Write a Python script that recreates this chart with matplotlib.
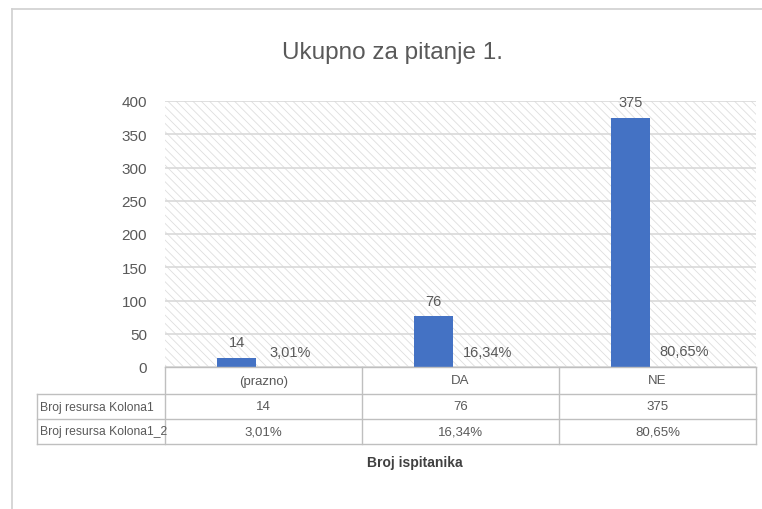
import matplotlib
matplotlib.use("Agg")
import matplotlib.pyplot as plt
import numpy as np
from matplotlib.lines import Line2D
from matplotlib.patches import Rectangle

plt.rcParams["hatch.linewidth"] = 0.6
plt.rcParams["font.family"] = ["Liberation Sans", "DejaVu Sans"]

TITLE = "Ukupno za pitanje 1."
CATEGORIES = ["(prazno)", "DA", "NE"]
COUNTS = [14, 76, 375]
SHARES = [0.0301, 0.1634, 0.8065]
COUNT_LABELS = ["14", "76", "375"]
SHARE_LABELS = ["3,01%", "16,34%", "80,65%"]
ROW_NAMES = ["Broj resursa Kolona1", "Broj resursa Kolona1_2"]
YTICKS = [0, 50, 100, 150, 200, 250, 300, 350, 400]
XLABEL = "Broj ispitanika"

W, H = 762, 510
TXT = "#595959"
GRID = "#d9d9d9"
LINE = "#bfbfbf"
BLUE = "#4472C4"


def fx(x):
    return x / W


def fy(y):
    return 1 - y / H


fig = plt.figure(figsize=(W / 100, H / 100), dpi=100)

# chart border (top and left visible)
fig.add_artist(Line2D([fx(12), fx(762)], [fy(10), fy(10)], color="#d0d0d0", lw=1.2))
fig.add_artist(Line2D([fx(12), fx(12)], [fy(10), fy(510)], color="#d0d0d0", lw=1.2))

left, right, top, bottom = 165, 756, 102, 368
ax = fig.add_axes([fx(left), fy(bottom), fx(right - left), fy(top) - fy(bottom)])

# hatched plot background
ax.add_patch(Rectangle((0, 0), 1, 1, transform=ax.transAxes, facecolor="white",
                       edgecolor="#dedede", lw=0, hatch="\\\\\\\\", zorder=0))

x = np.arange(len(CATEGORIES))
off, w = 0.137, 0.195
ax.bar(x - off, COUNTS, width=w, color=BLUE, zorder=3)
for xi, v, s in zip(x, COUNTS, COUNT_LABELS):
    ax.annotate(s, (xi - off, v), xytext=(0, 6), textcoords="offset points",
                ha="center", va="bottom", fontsize=10.5, color=TXT)
for xi, v, s in zip(x, SHARES, SHARE_LABELS):
    ax.annotate(s, (xi + off, v), xytext=(0, 6), textcoords="offset points",
                ha="center", va="bottom", fontsize=10.5, color=TXT)

ax.set_xlim(-0.5, len(CATEGORIES) - 0.5)
ax.set_ylim(0, 400)
ax.set_yticks(YTICKS)
ax.set_yticklabels([str(t) for t in YTICKS], fontsize=11, color=TXT)
ax.set_xticks([])
ax.tick_params(axis="y", length=0, pad=13)
for sp in ax.spines.values():
    sp.set_visible(False)
ax.grid(axis="y", color=GRID, lw=1.2, zorder=1)
ax.set_axisbelow(True)

fig.text(fx(393), fy(53), TITLE, ha="center", va="center", fontsize=17.5, color=TXT)

# data table below the axis
rows_y = [368, 395, 420, 445]
col_x = [left + (right - left) * i / len(CATEGORIES) for i in range(len(CATEGORIES) + 1)]
fig.add_artist(Line2D([fx(left), fx(right)], [fy(rows_y[0]), fy(rows_y[0])], color=LINE, lw=1))
for yy in rows_y[1:]:
    fig.add_artist(Line2D([fx(37), fx(right)], [fy(yy), fy(yy)], color=LINE, lw=1))
for xx in col_x:
    fig.add_artist(Line2D([fx(xx), fx(xx)], [fy(rows_y[0]), fy(rows_y[-1])], color=LINE, lw=1))
fig.add_artist(Line2D([fx(37), fx(37)], [fy(rows_y[1]), fy(rows_y[-1])], color=LINE, lw=1))

row_values = [COUNT_LABELS, SHARE_LABELS]
for i, cat in enumerate(CATEGORIES):
    cx = (col_x[i] + col_x[i + 1]) / 2
    fig.text(fx(cx), fy((rows_y[0] + rows_y[1]) / 2), cat, ha="center", va="center",
             fontsize=9.5, color=TXT)
    for r, vals in enumerate(row_values):
        fig.text(fx(cx), fy((rows_y[r + 1] + rows_y[r + 2]) / 2), vals[i], ha="center",
                 va="center", fontsize=9.5, color=TXT)
for r, name in enumerate(ROW_NAMES):
    fig.text(fx(40), fy((rows_y[r + 1] + rows_y[r + 2]) / 2), name, ha="left", va="center",
             fontsize=8.7, color=TXT)

fig.text(fx(415), fy(463), XLABEL, ha="center", va="center", fontsize=10,
         fontweight="bold", color="#404040")

fig.savefig("out.png", dpi=100)
